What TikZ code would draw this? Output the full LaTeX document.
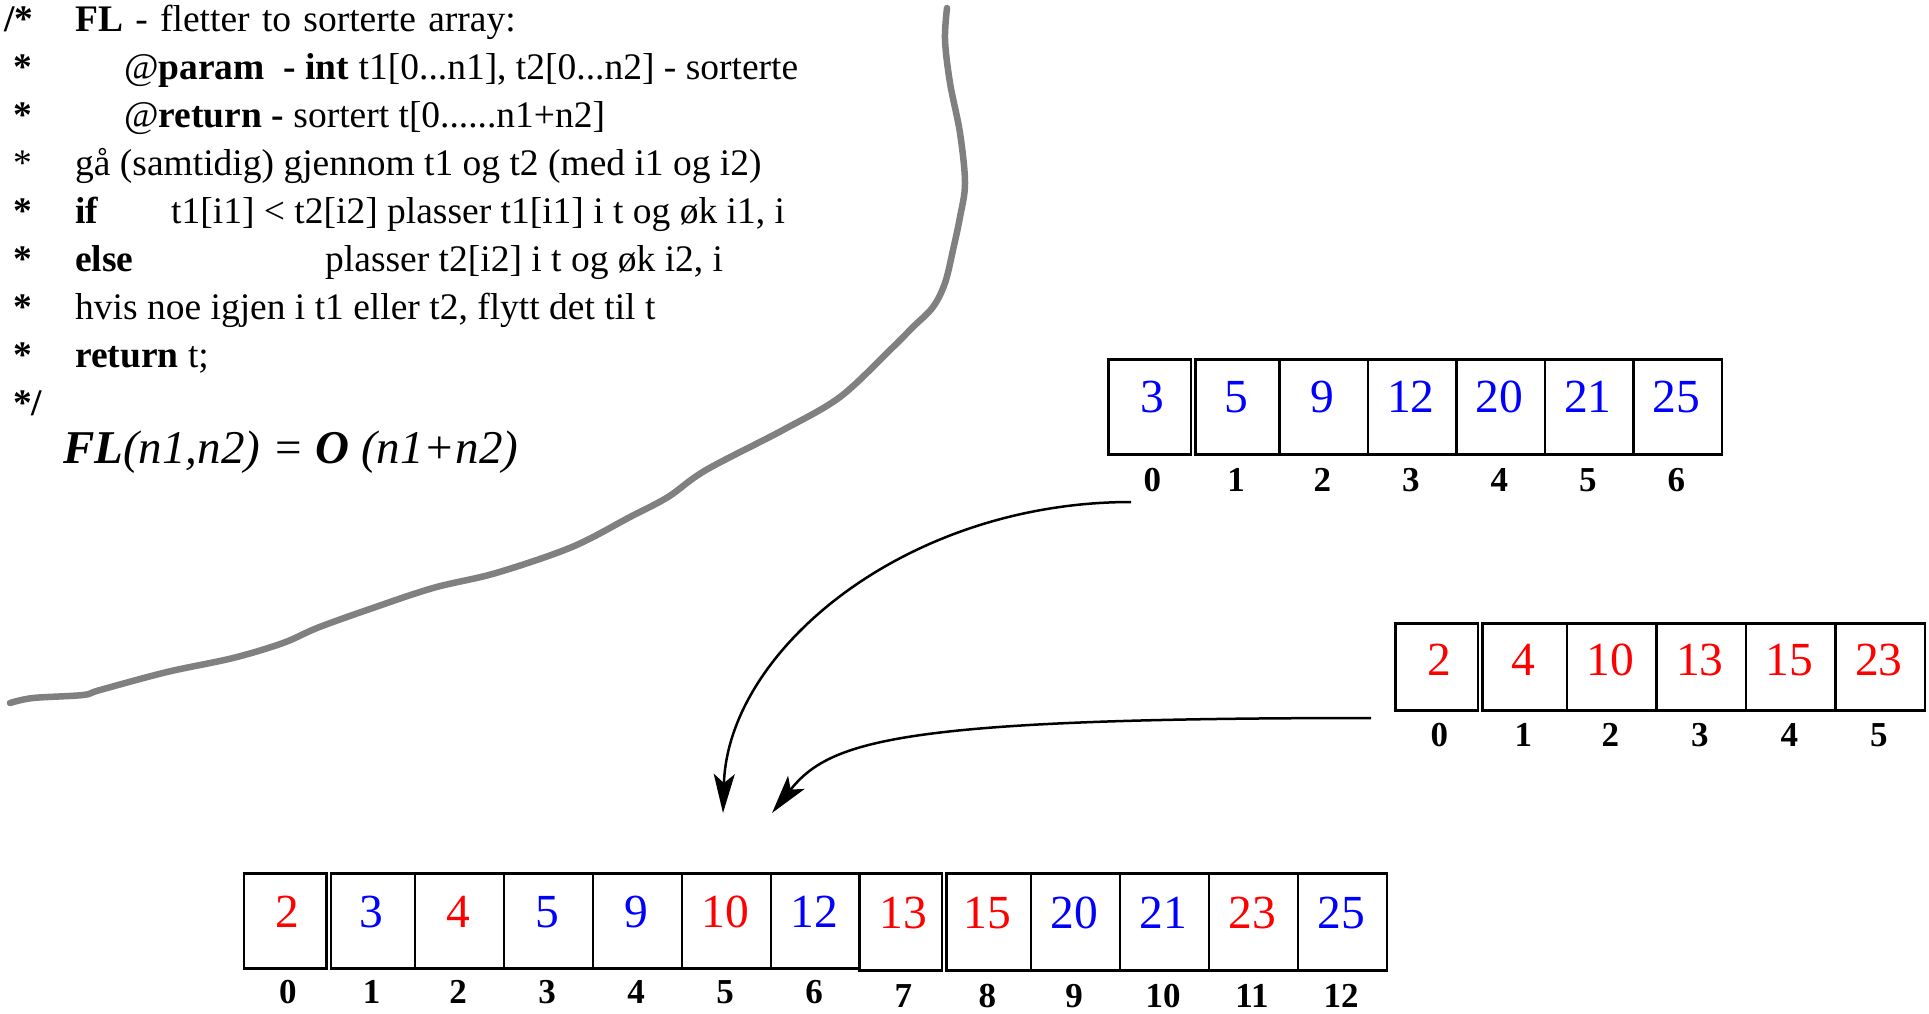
\documentclass[tikz,border=0pt]{standalone}
\usepackage{fontspec}
\setmainfont{Liberation Serif}
\usetikzlibrary{arrows.meta}
\definecolor{wallgray}{RGB}{128,128,128}
\begin{document}
\begin{tikzpicture}[x=1pt,y=-1pt,
  txt/.style={anchor=base west,inner sep=0pt,font=\fontsize{37.5}{45}\selectfont},
  bstar/.style={anchor=base west,inner sep=0pt,font=\fontsize{37.5}{45}\selectfont\bfseries},
  cellbox/.style={draw,line width=2.5pt,inner sep=0pt,anchor=north west},
  num/.style={inner sep=0pt,font=\fontsize{47.5}{52}\selectfont},
  idx/.style={inner sep=0pt,font=\fontsize{35}{40}\selectfont\bfseries},
  conn/.style={line width=2.5pt,-{Stealth[length=39pt,width=21pt,inset=9pt]}},
  wall/.style={draw=wallgray,line width=6.5pt,line cap=round,line join=round},
]
\useasboundingbox (0,0) rectangle (1929,1013);

% ---- comment text
\node[bstar] (m1) at (4,31) {/*};
\node[txt] (l1) at (75,31) {\spaceskip=12.3pt plus 2pt\textbf{FL} - fletter to sorterte array:};
\node[bstar] (m2) at (13,79) {*};
\node[txt] (l2) at (124,79) {@\textbf{param\ \ - int} t1[0...n1], t2[0...n2] - sorterte};
\node[bstar] (m3) at (13,127) {*};
\node[txt] (l3) at (124,127) {@\textbf{return -} sortert t[0......n1+n2]};
\node[txt] (m4) at (13,175) {*};
\node[txt] (l4) at (75,175) {gå (samtidig) gjennom t1 og t2 (med i1 og i2)};
\node[bstar] (m5) at (13,223) {*};
\node[txt] (l5a) at (75,223) {\textbf{if}};
\node[txt] (l5b) at (171,223) {t1[i1] < t2[i2] plasser t1[i1] i t og øk i1, i};
\node[bstar] (m6) at (13,271) {*};
\node[txt] (l6a) at (75,271) {\textbf{else}};
\node[txt] (l6b) at (325,271) {plasser t2[i2] i t og øk i2, i};
\node[bstar] (m7) at (13,319) {*};
\node[txt] (l7) at (75,319) {hvis noe igjen i t1 eller t2, flytt det til t};
\node[bstar] (m8) at (13,367) {*};
\node[txt] (l8) at (75,367) {\textbf{return} t;};
\node[bstar] (m9) at (13,415) {*/};
\node[anchor=base west,inner sep=0pt,font=\fontsize{47}{52}\selectfont\itshape] (fo) at (63,463)
  {\textbf{FL}(n1,n2) = \textbf{O} (n1+n2)};

% ---- gray separator
\draw[wall] plot[smooth,tension=0.55] coordinates {(947,8) (945,40) (950,83) (960,133) (965,183) (960,217) (953,250) (945,283) (933,307) (913,327) (890,350) (840,397) (783,430) (706,470) (668,497) (630,517) (572,547) (496,573) (433,588) (367,610) (317,628) (283,643) (233,658) (167,672) (100,690) (83,695) (33,698) (10,703)};

% ---- top array t1 (blue)
\foreach \l/\w/\v/\d [count=\i from 0] in {1107/82.5/3/4,1194/84/5/0,1278/88.5/9/0,1366.5/88.5/12/0,1455/88.5/20/0,1543.5/88.5/21/0,1632/88.5/25/0}{
  \pgfmathsetmacro\cx{\l+\w/2+\d}
  \node[cellbox,minimum width=\w pt,minimum height=95pt] (ta\i) at (\l,358) {};
  \node[num,text=blue] (tav\i) at (\cx,397) {\v};
  \node[idx] (tai\i) at (\cx,480) {\i};
}

% ---- second array t2 (red)
\foreach \l/\w/\v/\d [count=\i from 0] in {1394/82.5/2/4,1481/84.5/4/0,1565.5/89.5/10/0,1655/89.5/13/0,1744.5/89.5/15/0,1834/89.5/23/0}{
  \pgfmathsetmacro\cx{\l+\w/2+\d}
  \node[cellbox,minimum width=\w pt,minimum height=87pt] (tb\i) at (\l,622) {};
  \node[num,text=red] (tbv\i) at (\cx,660) {\v};
  \node[idx] (tbi\i) at (\cx,735) {\i};
}

% ---- result array t, first part
\foreach \l/\w/\v/\c/\d [count=\i from 0] in {242.5/82.5/2/red/4,329.5/84/3/blue/0,413.5/89/4/red/0,502.5/89/5/blue/0,591.5/89/9/blue/0,680.5/89/10/red/0,769.5/89/12/blue/0}{
  \pgfmathsetmacro\cx{\l+\w/2+\d}
  \node[cellbox,minimum width=\w pt,minimum height=95pt] (tc\i) at (\l,872) {};
  \node[num,text=\c] (tcv\i) at (\cx,912) {\v};
  \node[idx] (tci\i) at (\cx,992) {\i};
}
% ---- result array t, second part
\foreach \l/\w/\v/\c/\d [count=\i from 7] in {858/82.5/13/red/4,945/84.5/15/red/0,1029.5/89/20/blue/0,1118.5/89/21/blue/0,1207.5/89/23/red/0,1296.5/89/25/blue/0}{
  \pgfmathsetmacro\cx{\l+\w/2+\d}
  \node[cellbox,minimum width=\w pt,minimum height=97pt] (tc\i) at (\l,872) {};
  \node[num,text=\c] (tcv\i) at (\cx,913) {\v};
  \node[idx] (tci\i) at (\cx,996) {\i};
}

% ---- arrows
\coordinate (a1s) at (1131,502);
\coordinate (a1e) at (723,813);
\coordinate (a2s) at (1371,718);
\coordinate (a2e) at (772,813);
\draw[conn] (a1s) .. controls (906,502) and (728,650) .. (a1e);
\draw[conn] (a2s) .. controls (900,718) and (830,740) .. (a2e);
\end{tikzpicture}
\end{document}
